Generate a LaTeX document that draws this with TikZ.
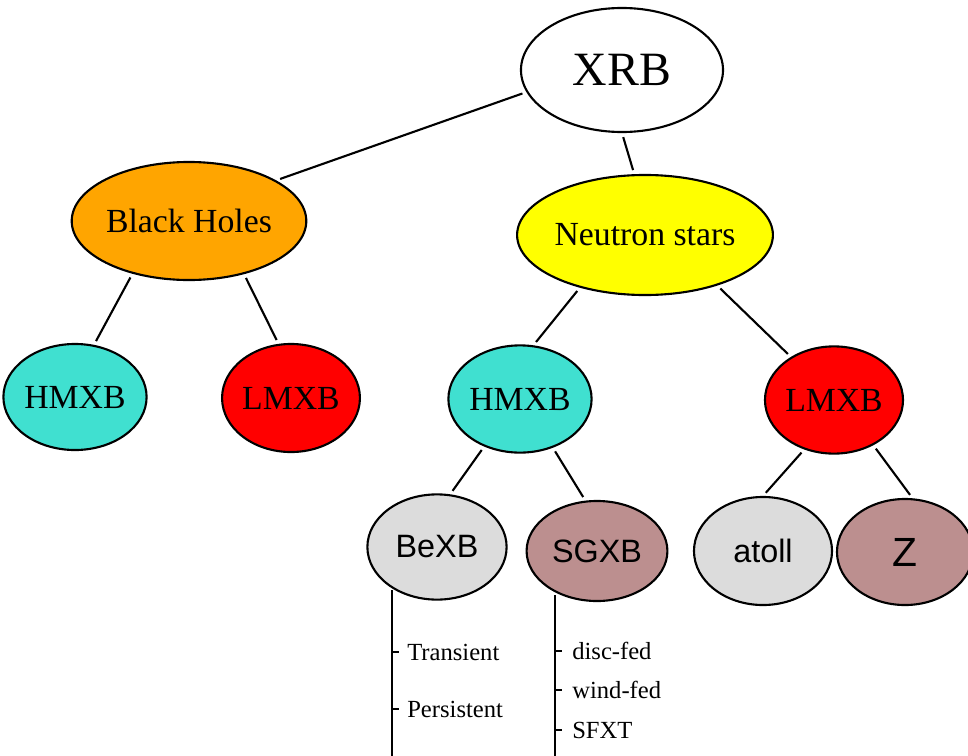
\documentclass[tikz,border=0pt]{standalone}
\usepackage{fontspec}
\setmainfont{Liberation Serif}
\setsansfont{Liberation Sans}
\usetikzlibrary{shapes.geometric}

\definecolor{bhorange}{RGB}{255,165,0}
\definecolor{nsyellow}{RGB}{255,255,0}
\definecolor{hmturq}{RGB}{64,224,208}
\definecolor{lmred}{RGB}{255,0,0}
\definecolor{subgray}{RGB}{220,220,220}
\definecolor{subrose}{RGB}{188,143,143}

\begin{document}
\begin{tikzpicture}[x=0.025cm, y=-0.025cm,
    blob/.style={ellipse, draw=black, line width=1.5pt, inner sep=0pt},
    link/.style={line width=1.5pt, shorten >=3pt, shorten <=3pt},
    bigtxt/.style={font=\fontsize{24}{28}\selectfont},
    sanstxt/.style={font=\sffamily\fontsize{23}{27}\selectfont},
    subtxt/.style={anchor=west, inner sep=0pt, font=\fontsize{17.5}{20}\selectfont}]
    \useasboundingbox (0,0) rectangle (968,756);

    % Root
    \node[blob, fill=white, minimum width=5.05cm, minimum height=3.1cm,
          font=\fontsize{34}{40}\selectfont] (xrb) at (622,70) {XRB};

    % Compact objects
    \node[blob, bigtxt, fill=bhorange, minimum width=4.95cm, minimum height=2.95cm] (bh) at (189,221) {Black Holes};
    \node[blob, bigtxt, fill=nsyellow, minimum width=5cm, minimum height=3cm] (ns) at (645,235) {Neutron stars};

    % Mass classes
    \node[blob, bigtxt, fill=hmturq, minimum width=3.4cm, minimum height=2.65cm] (bhhm) at (75,397) {HMXB};
    \node[blob, bigtxt, fill=lmred, minimum width=3.42cm, minimum height=2.7cm] (bhlm) at (291,398) {LMXB};
    \node[blob, bigtxt, fill=hmturq, minimum width=3.5cm, minimum height=2.68cm] (nshm) at (520,399) {HMXB};
    \node[blob, bigtxt, fill=lmred, minimum width=3.45cm, minimum height=2.68cm] (nslm) at (834,400) {LMXB};

    % Sub-classes
    \node[blob, sanstxt, fill=subgray, minimum width=3.48cm, minimum height=2.63cm] (bexb) at (437,547) {BeXB};
    \node[blob, sanstxt, fill=subrose, minimum width=3.52cm, minimum height=2.5cm] (sgxb) at (597,551) {SGXB};
    \node[blob, sanstxt, fill=subgray, minimum width=3.45cm, minimum height=2.7cm] (atoll) at (763,551) {atoll};
    \node[blob, fill=subrose, minimum width=3.4cm, minimum height=2.65cm,
          font=\sffamily\fontsize{29}{34}\selectfont] (zsrc) at (905,552) {Z};

    % Tree links
    \draw[link] (xrb.193) -- (bh.25);
    \draw[link] (xrb.270) -- (ns.100);
    \draw[link] (bh.223) -- (bhhm.70);
    \draw[link] (bh.316) -- (bhlm.103);
    \draw[link] (ns.219) -- (nshm.76);
    \draw[link] (ns.325) -- (nslm.135);
    \draw[link] (nshm.233) -- (bexb.76);
    \draw[link] (nshm.304) -- (sgxb.103);
    \draw[link] (nslm.239) -- (atoll.90);
    \draw[link] (nslm.311) -- (zsrc.82);

    % Lists below BeXB and SGXB
    \coordinate (betop) at (392,590);
    \coordinate (bebot) at (392,756);
    \coordinate (sgtop) at (555,595);
    \coordinate (sgbot) at (555,756);
    \draw[line width=1.5pt] (betop) -- (bebot);
    \draw[line width=1.5pt] (sgtop) -- (sgbot);

    \node[subtxt] (trans) at (407,652) {Transient};
    \node[subtxt] (pers) at (407,709) {Persistent};
    \node[subtxt] (disc) at (572,651) {disc-fed};
    \node[subtxt] (wind) at (572,690) {wind-fed};
    \node[subtxt] (sfxt) at (572,730) {SFXT};

    \foreach \lbl in {trans, pers}
        \draw[line width=1.2pt] (betop |- \lbl.west) -- ++(7,0);
    \foreach \lbl in {disc, wind, sfxt}
        \draw[line width=1.2pt] (sgtop |- \lbl.west) -- ++(7,0);
\end{tikzpicture}
\end{document}
